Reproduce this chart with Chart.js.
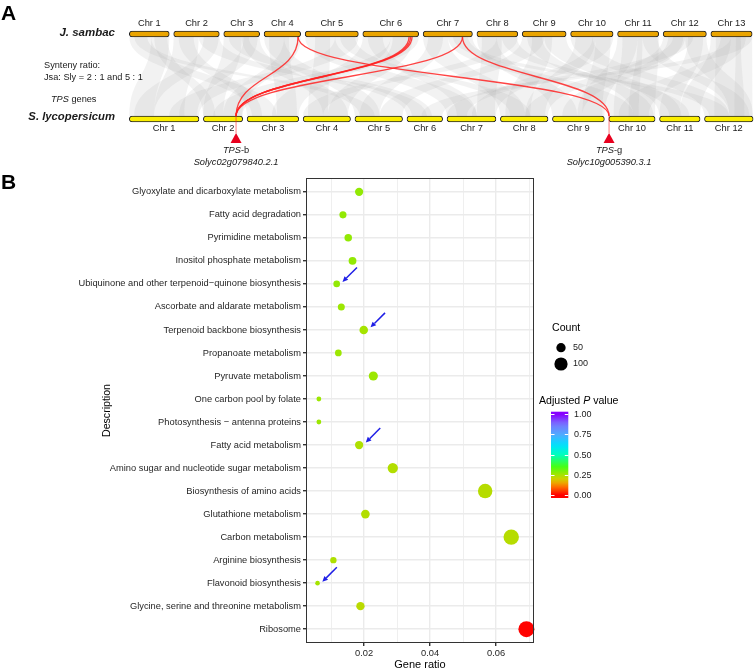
<!DOCTYPE html>
<html>
<head>
<meta charset="utf-8">
<script src="https://cdn.jsdelivr.net/npm/chart.js@4.4.1/dist/chart.umd.min.js"></script>
<style>
  html, body { margin: 0; padding: 0; background: #fff; }
  #wrap { position: relative; width: 756px; height: 670px; overflow: hidden; }
  canvas { position: absolute; left: 0; }
  #synteny { top: 0; }
  #enrich { top: 170px; }
</style>
</head>
<body>
<div id="wrap">
  <canvas id="synteny" width="756" height="170"></canvas>
  <canvas id="enrich" width="756" height="500"></canvas>
</div>
<script>
// ---- Panel A data: karyotypes (relative lengths) and synteny ----
const JSA_CHR = ['Chr 1', 'Chr 2', 'Chr 3', 'Chr 4', 'Chr 5', 'Chr 6', 'Chr 7', 'Chr 8', 'Chr 9', 'Chr 10', 'Chr 11', 'Chr 12', 'Chr 13'];
const JSA_LEN = [40, 45.7, 36, 36.7, 53.3, 56, 49.4, 41, 44, 42.6, 41.3, 43.3, 41.4];
const SLY_CHR = ['Chr 1', 'Chr 2', 'Chr 3', 'Chr 4', 'Chr 5', 'Chr 6', 'Chr 7', 'Chr 8', 'Chr 9', 'Chr 10', 'Chr 11', 'Chr 12'];
const SLY_LEN = [69.7, 39.4, 51.7, 47.4, 47.7, 35.7, 49, 47.7, 52, 46.4, 40.6, 48.7];

// [jsa chr, start, end, sly chr, start, end]
const SYNTENY_BLOCKS = [
  [1, 0, 22, 3, 5, 30], [1, 22, 40, 1, 0, 25], [2, 0, 25, 1, 25, 55], [2, 25, 45.7, 6, 0, 20],
  [3, 0, 18, 2, 0, 20], [3, 18, 36, 4, 20, 45], [4, 0, 20, 5, 0, 25], [4, 20, 36.7, 2, 20, 39],
  [5, 0, 30, 7, 0, 30], [5, 30, 53.3, 1, 40, 69.7], [6, 0, 28, 3, 25, 51.7], [6, 28, 56, 2, 10, 39],
  [7, 0, 25, 8, 0, 25], [7, 25, 49.4, 10, 0, 25], [8, 0, 20, 9, 0, 25], [8, 20, 41, 4, 0, 20],
  [9, 0, 22, 5, 25, 47.7], [9, 22, 44, 11, 0, 22], [10, 0, 22, 12, 0, 25], [10, 22, 42.6, 7, 25, 49],
  [11, 0, 20, 9, 25, 52], [11, 20, 41.3, 10, 20, 46.4], [12, 0, 22, 8, 25, 47.7], [12, 22, 43.3, 12, 25, 48.7],
  [13, 0, 20, 11, 20, 40.6], [13, 20, 41.4, 6, 15, 35.7], [2, 5, 20, 3, 0, 15], [5, 10, 25, 4, 5, 25],
  [6, 5, 20, 7, 10, 30], [12, 5, 20, 9, 10, 30], [13, 5, 30, 12, 10, 40], [11, 5, 25, 10, 5, 30],
  [9, 10, 30, 8, 5, 30], [1, 5, 18, 5, 5, 20], [1, 25, 38, 2, 0, 12], [2, 30, 45, 1, 5, 25],
  [3, 5, 25, 6, 5, 25], [3, 20, 34, 1, 50, 68], [4, 5, 25, 3, 30, 50], [5, 35, 50, 8, 10, 30],
  [6, 30, 50, 4, 25, 45], [7, 5, 20, 5, 5, 25], [7, 30, 45, 12, 5, 25], [8, 5, 25, 7, 30, 48],
  [8, 25, 40, 11, 10, 30], [9, 5, 20, 10, 25, 45], [10, 5, 25, 8, 25, 45], [10, 25, 40, 9, 30, 50],
  [11, 25, 40, 12, 25, 45], [12, 25, 40, 11, 0, 20], [13, 10, 35, 10, 10, 40], [13, 25, 41.4, 12, 30, 48],
  [12, 10, 30, 7, 0, 20],
];

// [jsa chr, pos, sly chr, pos]
const TPS_LINKS = [[4, 34, 2, 32.7], [4, 34, 10, 0.3], [6, 46.3, 2, 32.7], [6, 47.8, 2, 32.7], [6, 49.3, 2, 32.7], [7, 39.4, 2, 32.7], [7, 39.4, 10, 0.3]];
const TPS_GENES = [
  { chr: 2, pos: 32.7, family: 'b', id: 'Solyc02g079840.2.1' },
  { chr: 10, pos: 0.3, family: 'g', id: 'Solyc10g005390.3.1' },
];

// ---- Panel B data: KEGG enrichment ----
const PATHWAYS = [
  'Glyoxylate and dicarboxylate metabolism', 'Fatty acid degradation', 'Pyrimidine metabolism',
  'Inositol phosphate metabolism', 'Ubiquinone and other terpenoid\u2212quinone biosynthesis',
  'Ascorbate and aldarate metabolism', 'Terpenoid backbone biosynthesis', 'Propanoate metabolism',
  'Pyruvate metabolism', 'One carbon pool by folate', 'Photosynthesis \u2212 antenna proteins',
  'Fatty acid metabolism', 'Amino sugar and nucleotide sugar metabolism', 'Biosynthesis of amino acids',
  'Glutathione metabolism', 'Carbon metabolism', 'Arginine biosynthesis', 'Flavonoid biosynthesis',
  'Glycine, serine and threonine metabolism', 'Ribosome',
];
const GENE_RATIO = [0.0185, 0.0136, 0.0152, 0.0165, 0.0117, 0.0131, 0.0199, 0.0122, 0.0228, 0.0063,
  0.0063, 0.0185, 0.0287, 0.0567, 0.0204, 0.0646, 0.0107, 0.0059, 0.0189, 0.0692];
const GENE_COUNT = [39, 29, 32, 35, 25, 28, 42, 26, 48, 13, 13, 39, 61, 120, 43, 137, 23, 12, 40, 147];
const P_ADJUST = [0.27, 0.27, 0.27, 0.27, 0.27, 0.26, 0.25, 0.26, 0.26, 0.26, 0.26, 0.24, 0.235, 0.23,
  0.235, 0.23, 0.24, 0.25, 0.225, 0.002];
const HIGHLIGHTED = ['Ubiquinone and other terpenoid\u2212quinone biosynthesis', 'Terpenoid backbone biosynthesis',
  'Fatty acid metabolism', 'Flavonoid biosynthesis'];
const X_GRID = [0.01, 0.02, 0.03, 0.04, 0.05, 0.06, 0.07];
const X_TICKS = [0.02, 0.04, 0.06];
const P_TICKS = [0, 0.25, 0.5, 0.75, 1];
const COUNT_BREAKS = [50, 100];

const FONT = '"Liberation Sans", Arial, sans-serif';
const CHR_GAP = 4.35;
const R_RANGE = [2.3, 8];
const P_STOPS = [[0, [255, 0, 0]], [0.1, [255, 110, 0]], [0.18, [225, 200, 0]], [0.25, [165, 228, 0]],
  [0.35, [70, 255, 20]], [0.5, [0, 255, 190]], [0.62, [0, 225, 255]], [0.75, [80, 170, 255]],
  [0.88, [120, 115, 255]], [1, [135, 0, 255]]];

function offsets(lens) {
  let acc = 0;
  return lens.map(l => { const s = acc; acc += l + CHR_GAP; return s; });
}
const jsaStart = offsets(JSA_LEN);
const slyStart = offsets(SLY_LEN);

function pColor(p) {
  for (let i = 1; i < P_STOPS.length; i++) {
    const [p1, c1] = P_STOPS[i];
    const [p0, c0] = P_STOPS[i - 1];
    if (p <= p1) {
      const t = (p - p0) / (p1 - p0);
      const c = c0.map((v, k) => Math.round(v + t * (c1[k] - v)));
      return `rgb(${c[0]},${c[1]},${c[2]})`;
    }
  }
  return 'rgb(135,0,255)';
}

const cMin = Math.min(...GENE_COUNT), cMax = Math.max(...GENE_COUNT);
function sizeScale(c) {
  const t = (c - cMin) / (cMax - cMin);
  return Math.sqrt(R_RANGE[0] ** 2 + t * (R_RANGE[1] ** 2 - R_RANGE[0] ** 2));
}

function ribbon(ctx, x1a, x1b, y1, x2a, x2b, y2) {
  const ym = (y1 + y2) / 2;
  ctx.beginPath();
  ctx.moveTo(x1a, y1);
  ctx.lineTo(x1b, y1);
  ctx.bezierCurveTo(x1b, ym, x2b, ym, x2b, y2);
  ctx.lineTo(x2a, y2);
  ctx.bezierCurveTo(x2a, ym, x1a, ym, x1a, y1);
  ctx.closePath();
  ctx.fill();
}

// draws [text, italic] parts starting at x (align left) or centred on x
function mixedText(ctx, parts, x, y, size, center) {
  const widths = parts.map(([t, it]) => { ctx.font = `${it ? 'italic ' : ''}${size}px ${FONT}`; return ctx.measureText(t).width; });
  let cx = center ? x - widths.reduce((a, b) => a + b, 0) / 2 : x;
  ctx.textAlign = 'left';
  parts.forEach(([t, it], i) => {
    ctx.font = `${it ? 'italic ' : ''}${size}px ${FONT}`;
    ctx.fillText(t, cx, y);
    cx += widths[i];
  });
}

// ---------------- Panel A ----------------
const syntenyPlugin = {
  id: 'syntenyLinks',
  beforeDatasetsDraw(chart) {
    const { ctx, scales: { x, y } } = chart;
    const yTop = y.getPixelForValue(0) + 3, yBot = y.getPixelForValue(1) - 3;
    ctx.save();
    ctx.fillStyle = 'rgba(165,165,165,0.15)';
    SYNTENY_BLOCKS.forEach(([jc, js, je, sc, ss, se]) => {
      ribbon(ctx,
        x.getPixelForValue(jsaStart[jc - 1] + js), x.getPixelForValue(jsaStart[jc - 1] + je), yTop,
        x.getPixelForValue(slyStart[sc - 1] + ss), x.getPixelForValue(slyStart[sc - 1] + se), yBot);
    });
    ctx.restore();
  },
  afterDatasetsDraw(chart) {
    const { ctx, scales: { x, y } } = chart;
    const yT = y.getPixelForValue(0), yB = y.getPixelForValue(1);
    ctx.save();
    // red TPS links
    ctx.strokeStyle = 'rgba(255,35,35,0.85)';
    ctx.lineWidth = 1.3;
    TPS_LINKS.forEach(([jc, jp, sc, sp]) => {
      const x1 = x.getPixelForValue(jsaStart[jc - 1] + jp);
      const x2 = x.getPixelForValue(slyStart[sc - 1] + sp);
      const y1 = yT + 3, y2 = yB - 3, ym = (y1 + y2) / 2;
      ctx.beginPath();
      ctx.moveTo(x1, y1);
      ctx.bezierCurveTo(x1, ym, x2, ym, x2, y2);
      ctx.stroke();
    });
    // gene markers
    TPS_GENES.forEach(g => {
      const gx = x.getPixelForValue(slyStart[g.chr - 1] + g.pos);
      ctx.strokeStyle = 'rgba(255,35,35,0.6)';
      ctx.lineWidth = 1;
      ctx.beginPath(); ctx.moveTo(gx, yB - 3); ctx.lineTo(gx, yB + 14); ctx.stroke();
      ctx.fillStyle = '#e8001e';
      ctx.beginPath();
      ctx.moveTo(gx, yB + 14); ctx.lineTo(gx + 5.5, yB + 24); ctx.lineTo(gx - 5.5, yB + 24);
      ctx.closePath(); ctx.fill();
      ctx.fillStyle = '#1a1a1a';
      ctx.textBaseline = 'middle';
      mixedText(ctx, [['TPS', true], ['-' + g.family, false]], gx, yB + 31, 9.3, true);
      ctx.font = `italic 9.3px ${FONT}`;
      ctx.textAlign = 'center';
      ctx.fillText(g.id, gx, yB + 43);
    });
    // chromosome names
    ctx.fillStyle = '#1a1a1a';
    ctx.font = `9.3px ${FONT}`;
    ctx.textAlign = 'center';
    ctx.textBaseline = 'middle';
    JSA_CHR.forEach((n, i) => ctx.fillText(n, x.getPixelForValue(jsaStart[i] + JSA_LEN[i] / 2), yT - 11));
    SLY_CHR.forEach((n, i) => ctx.fillText(n, x.getPixelForValue(slyStart[i] + SLY_LEN[i] / 2), yB + 9));
    // species and notes
    ctx.textAlign = 'right';
    ctx.font = `italic bold 11.5px ${FONT}`;
    ctx.fillText('J. sambac', 115, yT - 1);
    ctx.font = `italic bold 11.3px ${FONT}`;
    ctx.fillText('S. lycopersicum', 115, yB - 2);
    ctx.textAlign = 'left';
    ctx.font = `9.2px ${FONT}`;
    ctx.fillText('Synteny ratio:', 44, 65);
    ctx.fillText('Jsa: Sly = 2 : 1 and 5 : 1', 44, 77);
    mixedText(ctx, [['TPS', true], [' genes', false]], 51, 99, 9.2, false);
    ctx.font = `bold 21px ${FONT}`;
    ctx.fillStyle = '#000';
    ctx.fillText('A', 1, 14);
    ctx.restore();
  },
};

new Chart(document.getElementById('synteny'), {
  type: 'bar',
  data: {
    labels: ['J. sambac', 'S. lycopersicum'],
    datasets: JSA_LEN.map((len, i) => ({
      data: [[jsaStart[i], jsaStart[i] + len], i < SLY_LEN.length ? [slyStart[i], slyStart[i] + SLY_LEN[i]] : null],
      backgroundColor: ['#eaa400', '#fbee00'],
      borderColor: '#262626',
      borderWidth: 1,
      borderSkipped: false,
      borderRadius: 3,
      barThickness: 6,
      grouped: false,
      clip: false,
    })),
  },
  options: {
    indexAxis: 'y',
    responsive: false,
    animation: false,
    events: [],
    layout: { padding: { top: 34, bottom: 51, left: 0, right: 0 } },
    scales: {
      x: { type: 'linear', display: false, min: -129.3, max: 626.7 },
      y: { type: 'category', display: false, offset: false },
    },
    plugins: { legend: { display: false }, tooltip: { enabled: false } },
  },
  plugins: [syntenyPlugin],
});

// ---------------- Panel B ----------------
function drawArrow(ctx, tx, ty) {
  const sx = tx + 14.5, sy = ty - 14.5;
  const ang = Math.atan2(ty - sy, tx - sx);
  const hl = 5.5, hw = 2.6;
  const bx = tx - hl * Math.cos(ang), by = ty - hl * Math.sin(ang);
  ctx.beginPath(); ctx.moveTo(sx, sy); ctx.lineTo(bx, by); ctx.stroke();
  ctx.beginPath();
  ctx.moveTo(tx, ty);
  ctx.lineTo(bx + hw * Math.sin(ang), by - hw * Math.cos(ang));
  ctx.lineTo(bx - hw * Math.sin(ang), by + hw * Math.cos(ang));
  ctx.closePath(); ctx.fill();
}

const enrichPlugin = {
  id: 'enrichExtras',
  afterDatasetsDraw(chart) {
    const { ctx, chartArea: a, scales: { x, y } } = chart;
    ctx.save();
    // panel border
    ctx.strokeStyle = '#333';
    ctx.lineWidth = 1;
    ctx.strokeRect(a.left + 0.5, a.top + 0.5, a.right - a.left - 1, a.bottom - a.top - 1);
    // arrows
    ctx.strokeStyle = '#1f1fe6';
    ctx.fillStyle = '#1f1fe6';
    ctx.lineWidth = 1.5;
    HIGHLIGHTED.forEach(name => {
      const i = PATHWAYS.indexOf(name);
      const r = sizeScale(GENE_COUNT[i]);
      drawArrow(ctx, x.getPixelForValue(GENE_RATIO[i]) + r + 2.5, y.getPixelForValue(i) - r * 0.6);
    });
    // axis titles
    ctx.fillStyle = '#000';
    ctx.textAlign = 'center';
    ctx.textBaseline = 'middle';
    ctx.font = `11px ${FONT}`;
    ctx.fillText('Gene ratio', (a.left + a.right) / 2, 495);
    ctx.save();
    ctx.translate(107, (a.top + a.bottom) / 2);
    ctx.rotate(-Math.PI / 2);
    ctx.font = `10.6px ${FONT}`;
    ctx.fillText('Description', 0, 0);
    ctx.restore();
    // size legend
    ctx.textAlign = 'left';
    ctx.font = `10.6px ${FONT}`;
    ctx.fillText('Count', 552, 158);
    ctx.font = `9px ${FONT}`;
    COUNT_BREAKS.forEach((c, k) => {
      const cy = 177.7 + k * 16.3;
      ctx.fillStyle = '#000';
      ctx.beginPath(); ctx.arc(561, cy, sizeScale(c), 0, Math.PI * 2); ctx.fill();
      ctx.fillStyle = '#1a1a1a';
      ctx.fillText(String(c), 573, cy);
    });
    // colour bar legend
    ctx.fillStyle = '#000';
    mixedText(ctx, [['Adjusted ', false], ['P', true], [' value', false]], 539, 231, 10.6, false);
    const py0 = 325, py1 = 244.3, bx = 551, bw = 17.3;
    const grad = ctx.createLinearGradient(0, py0, 0, py1);
    for (let k = 0; k <= 20; k++) grad.addColorStop(k / 20, pColor(k / 20));
    ctx.fillStyle = grad;
    ctx.fillRect(bx, py1 - 2.6, bw, py0 - py1 + 5.6);
    ctx.strokeStyle = '#fff';
    ctx.lineWidth = 1;
    ctx.font = `9px ${FONT}`;
    P_TICKS.forEach(p => {
      const ty = Math.round(py0 + p * (py1 - py0)) + 0.5;
      ctx.beginPath(); ctx.moveTo(bx, ty); ctx.lineTo(bx + 3.5, ty);
      ctx.moveTo(bx + bw - 3.5, ty); ctx.lineTo(bx + bw, ty); ctx.stroke();
      ctx.fillStyle = '#1a1a1a';
      ctx.fillText(p.toFixed(2), 574, ty);
    });
    ctx.fillStyle = '#000';
    ctx.font = `bold 21px ${FONT}`;
    ctx.fillText('B', 1, 13);
    ctx.restore();
  },
};

const isMajor = v => X_TICKS.some(t => Math.abs(t - v) < 1e-9);

new Chart(document.getElementById('enrich'), {
  type: 'bubble',
  data: {
    datasets: [{
      data: PATHWAYS.map((_, i) => ({ x: GENE_RATIO[i], y: i, r: sizeScale(GENE_COUNT[i]) })),
      backgroundColor: P_ADJUST.map(pColor),
      borderWidth: 0,
      clip: false,
    }],
  },
  options: {
    responsive: false,
    animation: false,
    events: [],
    layout: { padding: { top: 7, right: 222, left: 0, bottom: 0 } },
    scales: {
      x: {
        type: 'linear',
        min: 0.0024,
        max: 0.0715,
        afterBuildTicks: s => { s.ticks = X_GRID.map(v => ({ value: v })); },
        afterFit: s => { s.height = 27; },
        border: { display: false },
        grid: {
          color: '#ebebeb',
          lineWidth: c => (isMajor(c.tick.value) ? 1.4 : 0.8),
          tickColor: c => (isMajor(c.tick.value) ? '#333' : 'rgba(0,0,0,0)'),
          tickLength: 3,
        },
        ticks: {
          callback: v => (isMajor(v) ? v.toFixed(2) : ''),
          font: { family: FONT, size: 9.3 },
          color: '#262626',
          padding: 2,
          maxRotation: 0,
          autoSkip: false,
        },
      },
      y: {
        type: 'linear',
        reverse: true,
        min: -0.6,
        max: PATHWAYS.length - 0.4,
        afterBuildTicks: s => { s.ticks = PATHWAYS.map((_, i) => ({ value: i })); },
        afterFit: s => { s.width = 306; },
        border: { display: false },
        grid: { color: '#ebebeb', lineWidth: 1.4, tickColor: '#333', tickLength: 3 },
        ticks: {
          callback: v => PATHWAYS[v],
          font: { family: FONT, size: 9.3 },
          color: '#262626',
          padding: 2,
          autoSkip: false,
        },
      },
    },
    plugins: { legend: { display: false }, tooltip: { enabled: false } },
  },
  plugins: [enrichPlugin],
});
</script>
</body>
</html>
